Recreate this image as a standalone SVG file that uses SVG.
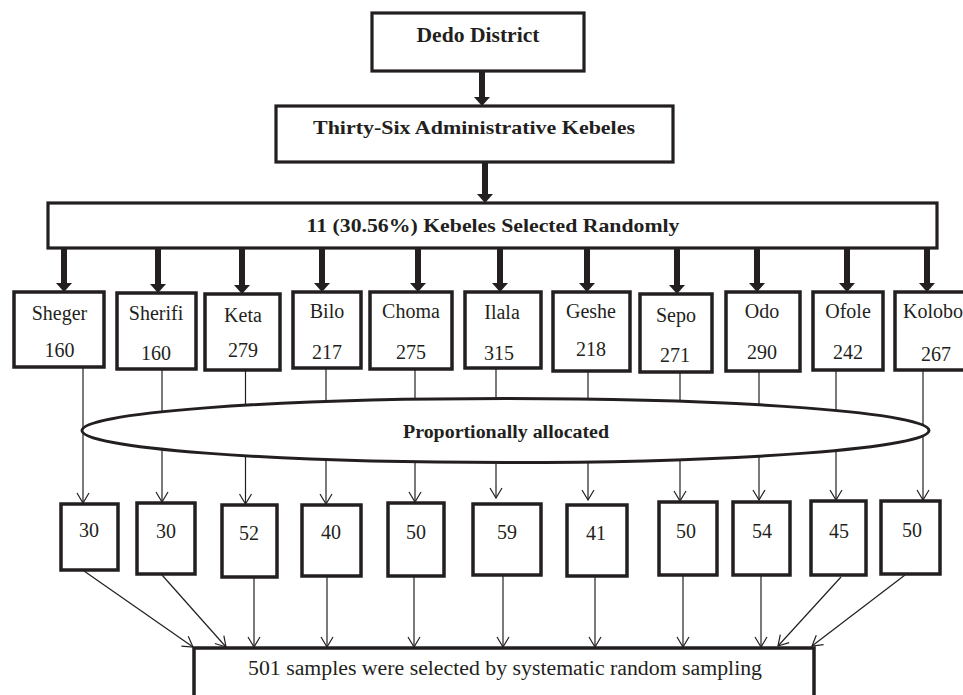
<svg xmlns="http://www.w3.org/2000/svg" width="963" height="695" viewBox="0 0 963 695">
<defs>
<style>
.box{fill:#fff;stroke:#231f20;stroke-width:3.5}
.tbox{fill:#fff;stroke:#231f20;stroke-width:3.2}
.bt{font-family:"Liberation Serif","Times New Roman",serif;font-weight:bold;fill:#231f20;text-anchor:middle}
.t{font-family:"Liberation Serif","Times New Roman",serif;font-size:20px;fill:#231f20;text-anchor:middle}
.thick{stroke:#231f20;stroke-width:6;fill:none;marker-end:url(#fat)}
.thin{stroke:#231f20;stroke-width:1.2;fill:none;marker-end:url(#vee)}
</style>
<marker id="fat" viewBox="0 0 9 16" refX="0" refY="8" markerWidth="9" markerHeight="16" markerUnits="userSpaceOnUse" orient="auto">
<path d="M0,0 L9,8 L0,16 Z" fill="#231f20"/>
</marker>
<marker id="vee" viewBox="0 0 12 14" refX="11" refY="7" markerWidth="12" markerHeight="14" markerUnits="userSpaceOnUse" orient="auto">
<path d="M1,1 L11,7 L1,13" fill="none" stroke="#231f20" stroke-width="1.2"/>
</marker>
</defs>
<rect width="963" height="695" fill="#fff"/>

<g id="connectors">
<line class="thick" x1="482" y1="71" x2="482" y2="97"/>
<line class="thick" x1="485" y1="162" x2="485" y2="194"/>
<line class="thick" x1="64" y1="248" x2="64" y2="283"/>
<line class="thick" x1="158" y1="248" x2="158" y2="284"/>
<line class="thick" x1="242" y1="248" x2="242" y2="285"/>
<line class="thick" x1="322" y1="248" x2="322" y2="283"/>
<line class="thick" x1="418" y1="248" x2="418" y2="283"/>
<line class="thick" x1="500" y1="248" x2="500" y2="283"/>
<line class="thick" x1="587" y1="248" x2="587" y2="283"/>
<line class="thick" x1="677" y1="248" x2="677" y2="285"/>
<line class="thick" x1="757" y1="248" x2="757" y2="283"/>
<line class="thick" x1="847" y1="248" x2="847" y2="283"/>
<line class="thick" x1="927" y1="248" x2="927" y2="283"/>

<line class="thin" x1="83" y1="367" x2="83" y2="503"/>
<line class="thin" x1="162" y1="369" x2="162" y2="502"/>
<line class="thin" x1="245.5" y1="370" x2="245.5" y2="504"/>
<line class="thin" x1="326" y1="368" x2="326" y2="504"/>
<line class="thin" x1="415" y1="369" x2="415" y2="502"/>
<line class="thin" x1="496" y1="368" x2="496" y2="498"/>
<line class="thin" x1="588" y1="371" x2="588" y2="500"/>
<line class="thin" x1="680" y1="372" x2="680" y2="501"/>
<line class="thin" x1="759" y1="371" x2="759" y2="500"/>
<line class="thin" x1="836" y1="371" x2="836" y2="500"/>
<line class="thin" x1="923" y1="370" x2="923" y2="500"/>

<line class="thin" x1="84" y1="571" x2="193" y2="647"/>
<line class="thin" x1="162" y1="575" x2="226" y2="647"/>
<line class="thin" x1="254" y1="577" x2="254" y2="647"/>
<line class="thin" x1="327" y1="576" x2="327" y2="647"/>
<line class="thin" x1="414" y1="576" x2="414" y2="647"/>
<line class="thin" x1="503" y1="575" x2="503" y2="647"/>
<line class="thin" x1="595" y1="576" x2="595" y2="647"/>
<line class="thin" x1="683" y1="575" x2="683" y2="647"/>
<line class="thin" x1="761" y1="575" x2="761" y2="647"/>
<line class="thin" x1="841" y1="577" x2="778" y2="646"/>
<line class="thin" x1="905" y1="575" x2="812" y2="646"/>
</g>

<g id="dedo">
<rect class="tbox" x="372" y="13" width="212" height="58"/>
<text class="bt" x="478" y="42" font-size="21" textLength="123" lengthAdjust="spacingAndGlyphs">Dedo District</text>
</g>
<g id="thirtysix">
<rect class="tbox" x="276" y="106" width="397" height="56"/>
<text class="bt" x="474" y="134" font-size="19" textLength="322" lengthAdjust="spacingAndGlyphs">Thirty-Six Administrative Kebeles</text>
</g>
<g id="selected">
<rect class="tbox" x="48" y="203" width="889" height="45"/>
<text class="bt" x="493" y="232" font-size="19" textLength="373" lengthAdjust="spacingAndGlyphs">11 (30.56%) Kebeles Selected Randomly</text>
</g>

<g id="k-sheger"><rect class="box" x="14" y="292" width="90" height="75"/><text class="t" x="59.5" y="320">Sheger</text><text class="t" x="59.5" y="357">160</text></g>
<g id="k-sherifi"><rect class="box" x="117" y="293" width="79" height="76"/><text class="t" x="156" y="320">Sherifi</text><text class="t" x="156" y="360">160</text></g>
<g id="k-keta"><rect class="box" x="205" y="294" width="75" height="76"/><text class="t" x="243" y="322">Keta</text><text class="t" x="243" y="357">279</text></g>
<g id="k-bilo"><rect class="box" x="293" y="292" width="68" height="76"/><text class="t" x="327" y="318">Bilo</text><text class="t" x="327" y="359">217</text></g>
<g id="k-choma"><rect class="box" x="370" y="292" width="82" height="77"/><text class="t" x="411" y="318">Choma</text><text class="t" x="411" y="359">275</text></g>
<g id="k-ilala"><rect class="box" x="465" y="292" width="76" height="76"/><text class="t" x="502" y="319">Ilala</text><text class="t" x="499" y="360">315</text></g>
<g id="k-geshe"><rect class="box" x="553" y="292" width="77" height="79"/><text class="t" x="591" y="318">Geshe</text><text class="t" x="591" y="356">218</text></g>
<g id="k-sepo"><rect class="box" x="640" y="294" width="72" height="78"/><text class="t" x="676" y="322">Sepo</text><text class="t" x="675" y="362">271</text></g>
<g id="k-odo"><rect class="box" x="726" y="292" width="74" height="79"/><text class="t" x="762" y="318">Odo</text><text class="t" x="762" y="359">290</text></g>
<g id="k-ofole"><rect class="box" x="813" y="292" width="70" height="78"/><text class="t" x="848" y="318">Ofole</text><text class="t" x="848" y="359">242</text></g>
<g id="k-kolobo"><rect class="box" x="895" y="292" width="90" height="78"/><text class="t" x="903" y="318" style="text-anchor:start">Kolobo</text><text class="t" x="936" y="361">267</text></g>

<g id="allocation">
<ellipse cx="505.5" cy="430.5" rx="423.5" ry="32" fill="#fff" stroke="#231f20" stroke-width="3"/>
<text class="bt" x="506" y="438" font-size="18" textLength="206" lengthAdjust="spacingAndGlyphs">Proportionally allocated</text>
</g>

<g id="s1"><rect class="box" x="61" y="504" width="57" height="66"/><text class="t" x="89" y="537">30</text></g>
<g id="s2"><rect class="box" x="137" y="503" width="58" height="71"/><text class="t" x="166" y="538">30</text></g>
<g id="s3"><rect class="box" x="222" y="505" width="55" height="72"/><text class="t" x="249" y="540">52</text></g>
<g id="s4"><rect class="box" x="302" y="505" width="59" height="71"/><text class="t" x="331" y="539">40</text></g>
<g id="s5"><rect class="box" x="388" y="503" width="56" height="73"/><text class="t" x="416" y="539">50</text></g>
<g id="s6"><rect class="box" x="473" y="504" width="68" height="71"/><text class="t" x="507" y="539">59</text></g>
<g id="s7"><rect class="box" x="567" y="505" width="60" height="71"/><text class="t" x="596" y="540">41</text></g>
<g id="s8"><rect class="box" x="659" y="502" width="58" height="73"/><text class="t" x="686" y="538">50</text></g>
<g id="s9"><rect class="box" x="733" y="502" width="57" height="73"/><text class="t" x="762" y="538">54</text></g>
<g id="s10"><rect class="box" x="811" y="501" width="55" height="74"/><text class="t" x="839" y="538">45</text></g>
<g id="s11"><rect class="box" x="881" y="501" width="59" height="73"/><text class="t" x="912" y="537">50</text></g>

<g id="result">
<rect class="box" x="194" y="648" width="620" height="60"/>
<text class="t" x="505" y="675" textLength="514" lengthAdjust="spacingAndGlyphs">501 samples were selected by systematic random sampling</text>
</g>
</svg>
